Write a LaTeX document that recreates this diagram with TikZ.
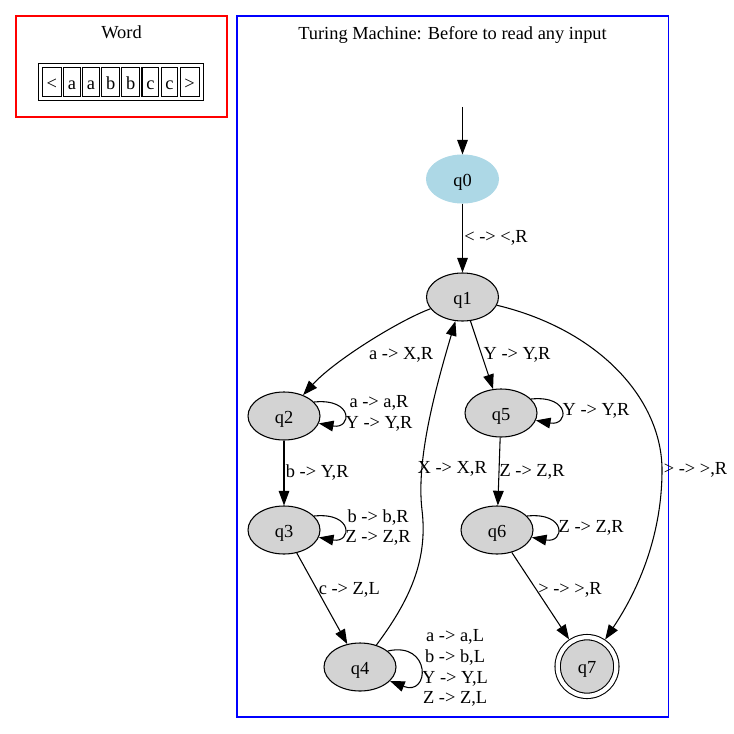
\documentclass[tikz,border=0pt]{standalone}
\usepackage{fontspec}
\setmainfont{Liberation Serif}
\usetikzlibrary{arrows.meta,shapes.geometric,positioning,fit}

\definecolor{stategray}{RGB}{211,211,211}
\definecolor{startblue}{RGB}{173,216,230}

\begin{document}
\begin{tikzpicture}[
  x=0.75pt, y=-0.75pt,
  font=\fontsize{13.8}{15.5}\selectfont,
  line width=0.8pt,
  >={Triangle[length=11pt,width=8pt]},
  state/.style = {
    draw, ellipse, fill=stategray,
    minimum width=54pt, minimum height=36pt,
    inner sep=0pt, text height=11pt, text depth=0pt
  },
  final/.style = {
    draw, circle, fill=stategray,
    double, double distance=3.2pt,
    minimum size=44pt, inner sep=0pt, outer sep=2.4pt,
    text height=11pt, text depth=0pt
  },
  cell/.style  = {draw, minimum height=22pt, inner xsep=3.2pt, inner ysep=0pt,
                  text height=11pt, text depth=0pt},
  lbl/.style   = {inner sep=1pt, align=center},
  selfloop/.style = {to path={.. controls +(40,-4) and +(33,6) .. (\tikztotarget) \tikztonodes}},
  tallloop/.style = {to path={.. controls +(44,-10) and +(40,16) .. (\tikztotarget) \tikztonodes}}
]
\useasboundingbox (0,0) rectangle (734,734);

% ---- clusters ----
\draw[red]  (16,16)  rectangle (227,117);
\draw[blue] (237,16) rectangle (668.5,717);
\node (wordlbl) at (121.5,32.5) {Word};
\node (tmlbl)   at (452.5,35)   {Turing Machine: Before to read any input};

% ---- tape ----
\node[cell, anchor=west] (t1) at (41.7,82) {<};
\node[cell, right=1pt of t1] (t2) {a};
\node[cell, right=1pt of t2] (t3) {a};
\node[cell, right=1pt of t3] (t4) {b};
\node[cell, right=1pt of t4] (t5) {b};
\node[cell, right=1pt of t5] (t6) {c};
\node[cell, right=1pt of t6] (t7) {c};
\node[cell, right=1pt of t7] (t8) {>};
\node[draw, fit=(t1)(t8), inner sep=2.6pt] (tape) {};

% ---- states ----
\coordinate (init) at (462.5,107);
\node[state, fill=startblue, draw=startblue] (q0) at (462.5,179) {q0};
\node[state] (q1) at (462.5,297) {q1};
\node[state] (q2) at (284,416) {q2};
\node[state] (q3) at (284,530) {q3};
\node[state] (q4) at (360,667) {q4};
\node[state] (q5) at (501,413) {q5};
\node[state] (q6) at (497,530) {q6};
\node[final] (q7) at (587,666.5) {q7};

% ---- transitions ----
\draw[->] (init) -- (q0);
\draw[->] (q0) -- node[lbl, right] {< -> <,R} (q1);
\draw[->] (q1) .. controls (400,320) and (335,360) .. (q2)
  node[lbl, pos=0.5, below right, yshift=-2pt] {a -> X,R};
\draw[->] (q1) -- node[lbl, right] {Y -> Y,R} (q5);
\draw[->] (q1) .. controls (600,330) and (662,400) .. (662,470)
  node[lbl, right] {> -> >,R}
  .. controls (662,540) and (635,595) .. (q7);
\draw[->] (q2) -- node[lbl, right] {b -> Y,R} (q3);
\draw[->] (q3) -- node[lbl, pos=0.4, right] {c -> Z,L} (q4);
\draw[->] (q4) .. controls (410,600) and (428,560) .. (422,510)
  .. controls (416,460) and (435,390) .. (q1)
  node[lbl, pos=0.25, right, inner sep=0pt, xshift=-3.5pt] {X -> X,R};
\draw[->] (q5) -- node[lbl, right, inner sep=0pt] {Z -> Z,R} (q6);
\draw[->] (q6) -- node[lbl, pos=0.43, right] {> -> >,R} (q7);

% ---- loops ----
\draw[->] (q2.25) to[selfloop] node[lbl, pos=0.5, right] {a -> a,R\\Y -> Y,R} (q2.-12);
\draw[->] (q3.25) to[selfloop] node[lbl, pos=0.5, right] {b -> b,R\\Z -> Z,R} (q3.-12);
\draw[->] (q5.25) to[selfloop] node[lbl, pos=0.5, right] {Y -> Y,R} (q5.-12);
\draw[->] (q6.25) to[selfloop] node[lbl, pos=0.5, right] {Z -> Z,R} (q6.-12);
\draw[->] (q4.30) to[tallloop] node[lbl, pos=0.5, right]
  {a -> a,L\\b -> b,L\\Y -> Y,L\\Z -> Z,L} (q4.-25);

\end{tikzpicture}
\end{document}
